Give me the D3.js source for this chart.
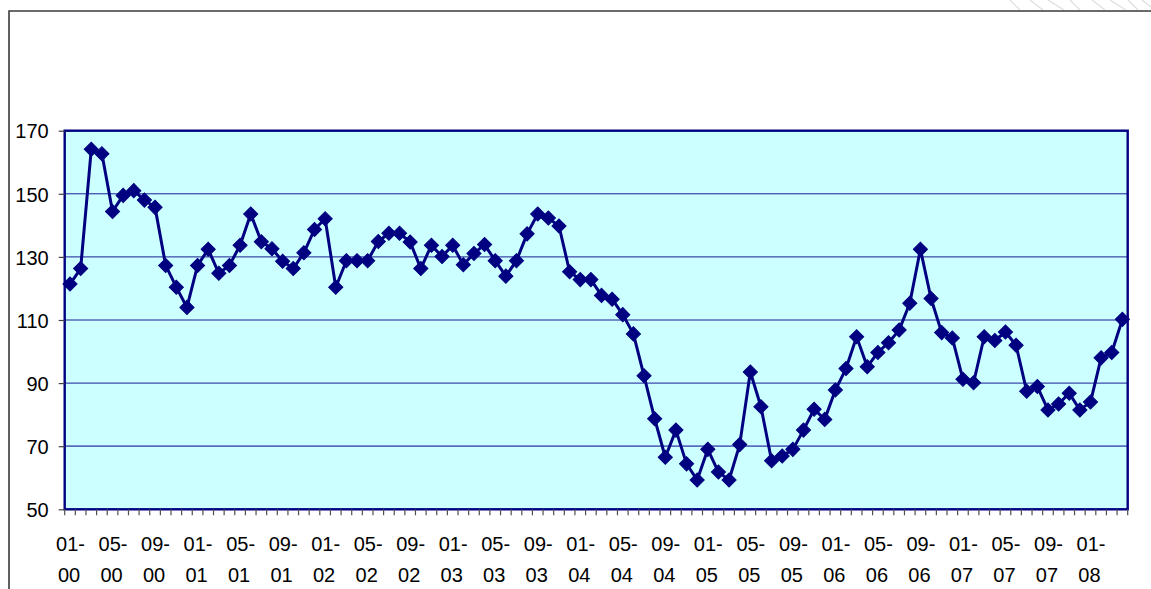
<!DOCTYPE html>
<html>
<head>
<meta charset="utf-8">
<script src="https://cdn.jsdelivr.net/npm/d3@7"></script>
<style>
  html, body { margin: 0; padding: 0; background: #ffffff; }
  svg { display: block; }
  text { font-family: Arial, "Liberation Sans", sans-serif; fill: #000; }
</style>
</head>
<body>
<svg id="chart" width="1151" height="589"></svg>
<script>
// Monthly index, January 2000 to April 2008
const startYear = 2000;
const monthCount = 100;
const categories = [];
for (let i = 0; i < monthCount; i++) {
  const m = (i % 12) + 1;
  const y = (startYear + Math.floor(i / 12)) % 100;
  categories.push(String(m).padStart(2, "0") + "-" + String(y).padStart(2, "0"));
}

const values = [
  121.4, 126.3, 164.1, 162.7, 144.4, 149.5, 151.0, 148.0, 145.7, 127.3,
  120.4, 114.0, 127.3, 132.4, 124.8, 127.3, 133.7, 143.6, 134.8, 132.6,
  128.6, 126.3, 131.3, 138.7, 142.1, 120.4, 128.8, 128.8, 128.8, 134.9,
  137.5, 137.5, 134.7, 126.3, 133.7, 130.1, 133.7, 127.5, 131.1, 133.9,
  128.8, 123.9, 128.8, 137.3, 143.6, 142.3, 139.8, 125.3, 122.8, 122.8,
  117.8, 116.6, 111.7, 105.6,  92.3,  78.7,  66.5,  75.1,  64.4,  59.3,
   69.0,  61.8,  59.3,  70.5,  93.5,  82.5,  65.4,  66.9,  69.0,  75.1,
   81.7,  78.5,  87.8,  94.6, 104.7,  95.2,  99.7, 102.8, 106.8, 115.3,
  132.4, 116.8, 106.0, 104.3,  91.2,  90.1, 104.7, 103.5, 106.2, 102.0,
   87.4,  88.9,  81.5,  83.4,  86.8,  81.5,  84.0,  98.0,  99.7, 110.2
];

const yTicks = [50, 70, 90, 110, 130, 150, 170];
const labelEvery = 4;

const svg = d3.select("#chart");

// Plot area
const plot = { left: 64.7, right: 1127.7, top: 130.7, bottom: 509.3 };

const x = d3.scaleBand().domain(categories).range([plot.left, plot.right]).padding(0);
const y = d3.scaleLinear().domain([50, 170]).range([plot.bottom, plot.top]);

// Faint decorative strokes in the top-right corner
const deco = svg.append("g").attr("stroke", "#dedede").attr("stroke-width", 1.2).attr("fill", "none");
[1010, 1030, 1048, 1070, 1092, 1110, 1128, 1142].forEach((sx, i) => {
  deco.append("line").attr("x1", sx).attr("y1", 0).attr("x2", sx + 10 + (i % 3) * 3).attr("y2", 10);
});

// Outer chart frame (left and top edges)
svg.append("path")
  .attr("d", `M9,589 V11 H1151`)
  .attr("fill", "none")
  .attr("stroke", "#3a3a3a")
  .attr("stroke-width", 1.6);

// Plot background
svg.append("rect")
  .attr("x", plot.left).attr("y", plot.top)
  .attr("width", plot.right - plot.left).attr("height", plot.bottom - plot.top)
  .attr("fill", "#ccffff");

// Horizontal gridlines
svg.append("g")
  .selectAll("line")
  .data(yTicks.filter(v => v > 50 && v < 170))
  .join("line")
  .attr("x1", plot.left).attr("x2", plot.right)
  .attr("y1", d => y(d)).attr("y2", d => y(d))
  .attr("stroke", d => d === 70 ? "#5a6cbc" : "#1c1c96")
  .attr("stroke-width", d => d === 70 ? 1.8 : 1);

// Plot border
svg.append("rect")
  .attr("x", plot.left).attr("y", plot.top)
  .attr("width", plot.right - plot.left).attr("height", plot.bottom - plot.top)
  .attr("fill", "none")
  .attr("stroke", "#000080")
  .attr("stroke-width", 2.4);

// Y axis
const yAxis = d3.axisLeft(y).tickValues(yTicks).tickSize(6).tickPadding(10).tickFormat(d3.format("d"));
const gy = svg.append("g").attr("transform", `translate(${plot.left},0)`).call(yAxis);
gy.select(".domain").remove();
gy.selectAll(".tick line").attr("stroke", "#404040").attr("stroke-width", 1.2);
gy.selectAll(".tick text")
  .attr("font-size", 20)
  .attr("font-family", "Arial, 'Liberation Sans', sans-serif")
  .attr("fill", "#000")
  .attr("dy", "0.36em")
  .attr("x", -16);

// X axis tick marks at category boundaries
const boundaries = categories.map(c => x(c)).concat([plot.right]);
svg.append("g")
  .selectAll("line")
  .data(boundaries)
  .join("line")
  .attr("x1", d => d).attr("x2", d => d)
  .attr("y1", plot.bottom).attr("y2", plot.bottom + 6)
  .attr("stroke", "#505050")
  .attr("stroke-width", 1.2);

// X axis labels, two lines each
const lbl = svg.append("g")
  .attr("font-size", 20)
  .attr("text-anchor", "middle");
categories.forEach((c, i) => {
  if (i % labelEvery !== 0) return;
  const cx = x(c) + x.bandwidth() / 2;
  const parts = c.split("-");
  lbl.append("text").attr("x", cx + 0.5).attr("y", 551).text(parts[0] + "-");
  lbl.append("text").attr("x", cx - 1).attr("y", 582).text(parts[1]);
});

// Series line
const cxOf = (d, i) => x(categories[i]) + x.bandwidth() / 2;
const line = d3.line().x((d, i) => cxOf(d, i)).y(d => y(d));
svg.append("path")
  .datum(values)
  .attr("d", line)
  .attr("fill", "none")
  .attr("stroke", "#000080")
  .attr("stroke-width", 3)
  .attr("stroke-linejoin", "round");

// Diamond markers
const diamond = d3.symbol().type(d3.symbolSquare).size(100);
svg.append("g")
  .selectAll("path")
  .data(values)
  .join("path")
  .attr("d", diamond)
  .attr("transform", (d, i) => `translate(${cxOf(d, i)},${y(d)}) rotate(45)`)
  .attr("fill", "#000080")
  .attr("stroke", "#000080")
  .attr("stroke-width", 1);
</script>
</body>
</html>
